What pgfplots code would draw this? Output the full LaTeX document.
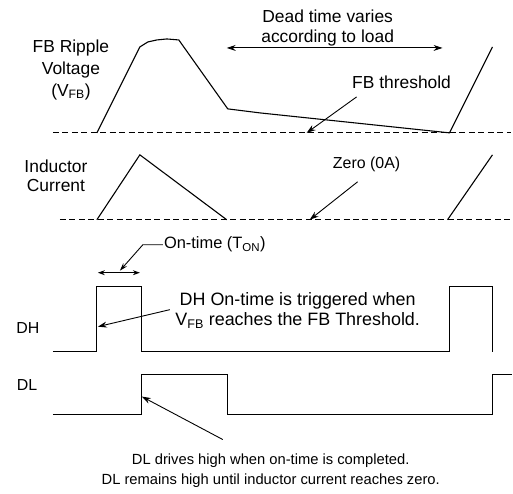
\documentclass[border=0pt]{standalone}
\usepackage{pgfplots}
\pgfplotsset{compat=1.18}
\usepackage{fontspec}
\setmainfont{Liberation Sans}
\usetikzlibrary{arrows.meta}
\begin{document}
\begin{tikzpicture}
\begin{axis}[
  scale only axis, width=513bp, height=494bp,
  xmin=0, xmax=513, ymin=0, ymax=494, y dir=reverse,
  hide axis, clip=false,
  font=\fontsize{17}{21}\selectfont,
]
\path (rel axis cs:0,0) rectangle (rel axis cs:1,1);
% thresholds / zero lines
\addplot[black, dash pattern=on 6pt off 3.5pt, line width=1pt] coordinates {(53,133) (512,133)};
\addplot[black, dash pattern=on 6pt off 3.5pt, line width=1pt] coordinates {(60,220) (512,220)};
% FB ripple voltage
\addplot[black, line width=1.1pt] coordinates {(97,133) (140,47) (148,42) (157,40) (167,39) (179,40) (228,109) (260,113) (450,133) (493,47)};
% inductor current
\addplot[black, line width=1.1pt] coordinates {(97,220) (140,155) (227,220)};
\addplot[black, line width=1.1pt] coordinates {(448,220) (493,155)};
% DH
\addplot[black, line width=1.1pt] coordinates {(53,352) (97,352) (97,287) (142,287) (142,352) (450,352) (450,287) (493,287) (493,352)};
% DL
\addplot[black, line width=1.1pt] coordinates {(53,415) (142,415) (142,375) (228,375) (228,415) (493,415) (493,375) (513,375)};
% annotations
\draw[line width=0.9pt, {Stealth[length=9pt,width=6pt]}-{Stealth[length=9pt,width=6pt]}] (axis cs:227,48) -- (axis cs:443,48);
\draw[line width=0.9pt, -{Stealth[length=9pt,width=6pt]}] (axis cs:357,97) -- (axis cs:307,133);
\draw[line width=0.9pt, -{Stealth[length=9pt,width=6pt]}] (axis cs:358,182) -- (axis cs:310,220);
\draw[line width=0.9pt, {Stealth[length=7pt,width=5pt]}-{Stealth[length=7pt,width=5pt]}] (axis cs:98,273) -- (axis cs:140,273);
\draw[line width=0.9pt, -{Stealth[length=8pt,width=5pt]}] (axis cs:163,245) -- (axis cs:143,245) -- (axis cs:120,271);
\draw[line width=0.9pt, -{Stealth[length=9pt,width=6pt]}] (axis cs:170,310) -- (axis cs:98,327);
\draw[line width=0.9pt, -{Stealth[length=9pt,width=6pt]}] (axis cs:223,440) -- (axis cs:142,397);
% texts
\node[align=center, font=\fontsize{17.5}{22}\selectfont] at (axis cs:71,70) {FB Ripple\\Voltage\\(V\textsubscript{FB})};
\node[align=center, font=\fontsize{17.5}{21}\selectfont] at (axis cs:328,28) {Dead time varies\\according to load};
\node[font=\fontsize{17.5}{21}\selectfont] at (axis cs:402,82) {FB threshold};
\node[align=center, font=\fontsize{17.5}{19}\selectfont] at (axis cs:56,176) {Inductor\\Current};
\node[font=\fontsize{16}{19}\selectfont] at (axis cs:367,165) {Zero (0A)};
\node[anchor=west, inner sep=1pt, font=\fontsize{16.5}{19}\selectfont] at (axis cs:163,245) {On-time (T\textsubscript{ON})};
\node[font=\fontsize{16}{19}\selectfont] at (axis cs:28,328) {DH};
\node[font=\fontsize{16}{19}\selectfont] at (axis cs:27,385) {DL};
\node[align=center, font=\fontsize{18}{20}\selectfont] at (axis cs:298,311) {DH On-time is triggered when\\V\textsubscript{FB} reaches the FB Threshold.};
\node[align=center, font=\fontsize{14.8}{20}\selectfont] at (axis cs:271,471) {DL drives high when on-time is completed.\\DL remains high until inductor current reaches zero.};
\end{axis}
\end{tikzpicture}
\end{document}
